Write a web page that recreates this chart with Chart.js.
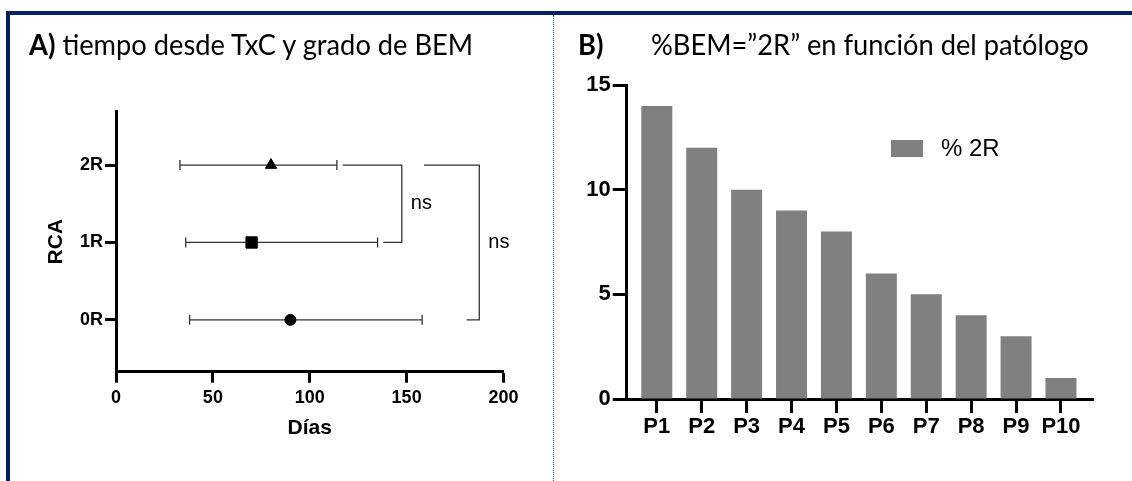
<!DOCTYPE html>
<html>
<head>
<meta charset="utf-8">
<title>RCA / BEM</title>
<script src="https://cdn.jsdelivr.net/npm/chart.js@4.4.1/dist/chart.umd.min.js"></script>
<style>
  body { margin: 0; background: #fff; }
  #page { position: relative; width: 1132px; height: 481px; overflow: hidden; }
  canvas { position: absolute; top: 0; }
  .frame { position: absolute; background: #002060; z-index: 2; }
  .sep { position: absolute; left: 553px; top: 15px; bottom: 0; border-left: 1px dotted #2F5597; z-index: 2; }
  .title { position: absolute; top: 29px; font-family: Lato, sans-serif; font-size: 29px; line-height: 29px; color: #000;
           white-space: nowrap; transform: scaleX(0.94); transform-origin: 0 0; }
  .title b { font-weight: 700; }
</style>
</head>
<body>
<div id="page">
  <canvas id="chartA" width="553" height="481" style="left:0"></canvas>
  <canvas id="chartB" width="579" height="481" style="left:553px"></canvas>
  <div class="frame" style="left:6px; top:11px; right:0; height:4px"></div>
  <div class="frame" style="left:6px; top:11px; width:4px; bottom:0"></div>
  <div class="sep"></div>
  <div class="title" style="left:29px"><b>A)</b> tiempo desde TxC y grado de BEM</div>
  <div class="title" style="left:578px"><b>B)</b></div>
  <div class="title" style="left:651px">%BEM=”2R” en función del patólogo</div>
</div>
<script>
  Chart.defaults.font.family = "'Liberation Sans', Arial, sans-serif";
  Chart.defaults.color = '#000';

  // A) tiempo desde TxC y grado de BEM
  const grupos = ['0R', '1R', '2R'];
  const mediaDias = [90, 70, 80];
  const minDias = [38, 36, 33];
  const maxDias = [158, 135, 114];
  const diasTicks = [0, 50, 100, 150, 200];

  // comparaciones (corchetes "ns"): grupo de arriba, grupo de abajo, x inicio, x vertical, x fin
  const compDesde = [2, 2];
  const compHasta = [1, 0];
  const compInicio = [117, 159];
  const compVertical = [147.5, 187.5];
  const compFin = [138, 181];
  const compTexto = ['ns', 'ns'];

  // B) %BEM="2R" en función del patólogo
  const patologos = ['P1', 'P2', 'P3', 'P4', 'P5', 'P6', 'P7', 'P8', 'P9', 'P10'];
  const pct2R = [14, 12, 10, 9, 8, 6, 5, 4, 3, 1];
  const pctTicks = [0, 5, 10, 15];

  const simbolos = ['circle', 'rect', 'triangle'];
  const radios = [5.5, 8, 6.5];
  const gris = '#333';

  function ejeBase(tickLength) {
    return {
      border: { display: true, color: '#000', width: 3 },
      grid: { drawOnChartArea: false, drawTicks: true, color: '#000', tickColor: '#000', tickLength: tickLength, tickWidth: 3 }
    };
  }

  const etiquetasComp = {
    id: 'etiquetasComp',
    afterDatasetsDraw(chart) {
      const { ctx, scales: { x, y } } = chart;
      ctx.save();
      ctx.font = "20px 'Liberation Sans', Arial, sans-serif";
      ctx.fillStyle = '#000';
      ctx.textBaseline = 'middle';
      compTexto.forEach((t, k) => {
        const px = x.getPixelForValue(compVertical[k]) + 9;
        const py = (y.getPixelForValue(compDesde[k]) + y.getPixelForValue(compHasta[k])) / 2;
        ctx.fillText(t, px, py);
      });
      ctx.restore();
    }
  };

  const marcadores = grupos.map((g, i) => ({
    label: g,
    data: [{ x: mediaDias[i], y: i }],
    pointStyle: simbolos[i],
    pointRadius: radios[i],
    backgroundColor: '#000',
    borderColor: '#000',
    borderWidth: 1
  }));
  const barrasError = grupos.map((g, i) => ({
    label: g + ' rango',
    data: [{ x: minDias[i], y: i }, { x: maxDias[i], y: i }],
    showLine: true,
    borderColor: gris,
    borderWidth: 1.3,
    pointStyle: 'line',
    pointRotation: 90,
    pointRadius: 5,
    pointBorderColor: gris,
    pointBorderWidth: 1.3
  }));
  const corchetes = compDesde.map((d, k) => ({
    label: compTexto[k],
    data: [
      { x: compInicio[k], y: d },
      { x: compVertical[k], y: d },
      { x: compVertical[k], y: compHasta[k] },
      { x: compFin[k], y: compHasta[k] }
    ],
    showLine: true,
    pointRadius: 0,
    borderColor: gris,
    borderWidth: 1.3
  }));

  new Chart(document.getElementById('chartA'), {
    type: 'scatter',
    data: { datasets: [...marcadores, ...barrasError, ...corchetes] },
    options: {
      responsive: false,
      animation: false,
      events: [],
      devicePixelRatio: 1,
      layout: { padding: { top: 111.7, left: 0, right: 49.5, bottom: 0 } },
      plugins: { legend: { display: false }, tooltip: { enabled: false } },
      scales: {
        x: {
          ...ejeBase(11),
          type: 'linear', min: 0, max: 200,
          afterBuildTicks: s => { s.ticks = diasTicks.map(v => ({ value: v })); },
          afterFit: s => { s.height = 109.3; },
          ticks: { font: { size: 18, weight: 'bold' }, padding: 5, maxRotation: 0 },
          title: { display: true, text: 'Días', font: { size: 21, weight: 'bold' }, padding: { top: 0, bottom: 40 } }
        },
        y: {
          ...ejeBase(11),
          type: 'linear', min: -0.67, max: 2.69,
          afterBuildTicks: s => { s.ticks = grupos.map((g, i) => ({ value: i })); },
          afterFit: s => { s.width = 116; },
          ticks: { callback: v => grupos[v], font: { size: 18, weight: 'bold' }, padding: 2 },
          title: { display: true, text: 'RCA', font: { size: 21, weight: 'bold' }, padding: { top: 44, bottom: 0 } }
        }
      }
    },
    plugins: [etiquetasComp]
  });

  const leyendaB = {
    id: 'leyendaB',
    afterDraw(chart) {
      const ctx = chart.ctx;
      const ds = chart.data.datasets[0];
      ctx.save();
      ctx.fillStyle = ds.backgroundColor;
      ctx.fillRect(338, 140, 32, 17);
      ctx.fillStyle = '#000';
      ctx.font = "24px 'Liberation Sans', Arial, sans-serif";
      ctx.textBaseline = 'middle';
      ctx.fillText(ds.label, 388, 149);
      ctx.restore();
    }
  };

  new Chart(document.getElementById('chartB'), {
    type: 'bar',
    data: {
      datasets: [{
        label: '% 2R',
        data: patologos.map((p, i) => ({ x: i, y: pct2R[i] })),
        backgroundColor: '#808080',
        categoryPercentage: 1,
        barPercentage: 0.69
      }]
    },
    options: {
      responsive: false,
      animation: false,
      events: [],
      devicePixelRatio: 1,
      layout: { padding: { top: 85, left: 0, right: 38.7, bottom: 0 } },
      plugins: { legend: { display: false }, tooltip: { enabled: false } },
      scales: {
        x: {
          ...ejeBase(14),
          type: 'linear', min: -0.67, max: 9.72, offset: false,
          grid: { ...ejeBase(14).grid, offset: false },
          afterBuildTicks: s => { s.ticks = patologos.map((p, i) => ({ value: i })); },
          afterFit: s => { s.height = 82; },
          ticks: { callback: v => patologos[v], font: { size: 22, weight: 'bold' }, padding: 1, maxRotation: 0, autoSkip: false }
        },
        y: {
          ...ejeBase(14),
          min: 0, max: 15,
          afterBuildTicks: s => { s.ticks = pctTicks.map(v => ({ value: v })); },
          afterFit: s => { s.width = 73.7; },
          ticks: { font: { size: 22, weight: 'bold' }, padding: 2 }
        }
      }
    },
    plugins: [leyendaB]
  });
</script>
</body>
</html>
